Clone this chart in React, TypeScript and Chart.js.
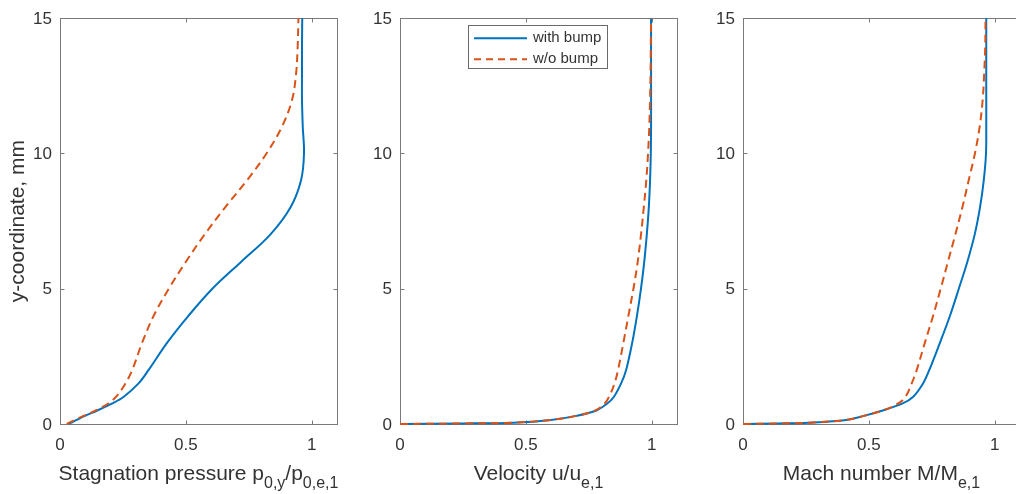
import React, { useEffect, useRef } from 'react';
import { Chart, registerables } from 'chart.js';

Chart.register(...registerables);

// ---- data (y-coordinate in mm, profile values at those heights) ----
const yCoord = [0, 0.02, 0.05, 0.15, 0.3, 0.5, 0.75, 1, 1.5, 2, 3, 4, 5, 6, 7, 8, 9, 10, 11, 12, 13, 14, 15];

const pressureWith = [0.035, 0.039, 0.045, 0.066, 0.099, 0.148, 0.205, 0.252, 0.312, 0.352, 0.425, 0.51, 0.605, 0.72, 0.835, 0.915, 0.957, 0.969, 0.964, 0.961, 0.961, 0.961, 0.962];
const pressureWithout = [0.027, 0.031, 0.037, 0.058, 0.094, 0.142, 0.19, 0.222, 0.26, 0.287, 0.326, 0.372, 0.432, 0.5, 0.574, 0.655, 0.742, 0.82, 0.882, 0.922, 0.938, 0.944, 0.947];

const velocityWith = [0, 0.25, 0.45, 0.6, 0.7, 0.78, 0.822, 0.849, 0.878, 0.898, 0.922, 0.941, 0.957, 0.97, 0.98, 0.988, 0.993, 0.996, 0.997, 0.997, 0.997, 0.997, 0.997];
const velocityWithout = [0, 0.25, 0.45, 0.6, 0.7, 0.775, 0.812, 0.83, 0.852, 0.866, 0.887, 0.907, 0.927, 0.944, 0.957, 0.968, 0.978, 0.985, 0.99, 0.993, 0.995, 0.996, 0.997];

const machWith = [0, 0.14, 0.26, 0.41, 0.48, 0.555, 0.632, 0.675, 0.715, 0.74, 0.782, 0.822, 0.857, 0.891, 0.92, 0.941, 0.956, 0.965, 0.966, 0.966, 0.966, 0.966, 0.966];
const machWithout = [0, 0.14, 0.26, 0.41, 0.48, 0.555, 0.615, 0.645, 0.67, 0.69, 0.722, 0.755, 0.785, 0.814, 0.843, 0.871, 0.896, 0.921, 0.94, 0.952, 0.958, 0.962, 0.963];

const xTicks = [0, 0.5, 1];
const yTicks = [0, 5, 10, 15];
const seriesLabels = ['with bump', 'w/o bump'];
const yTitle = 'y-coordinate, mm';

type Seg = { t: string; sub?: boolean };
const xTitles: Seg[][] = [
  [{ t: 'Stagnation pressure p' }, { t: '0,y', sub: true }, { t: '/p' }, { t: '0,e,1', sub: true }],
  [{ t: 'Velocity u/u' }, { t: 'e,1', sub: true }],
  [{ t: 'Mach number M/M' }, { t: 'e,1', sub: true }],
];

// ---- styling ----
const FONT = "'Liberation Sans', Arial, Helvetica, sans-serif";
const BLUE = '#0072BD';
const ORANGE = '#D95319';
const AXIS = '#7a7a7a';
const TEXT = '#333333';

const panels = [
  { left: 0, a: pressureWith, b: pressureWithout, legend: false, yTitle: true },
  { left: 340, a: velocityWith, b: velocityWithout, legend: true, yTitle: false },
  { left: 683, a: machWith, b: machWithout, legend: false, yTitle: false },
];

function makeFramePlugin(index: number, legend: boolean) {
  return {
    id: 'matlabFrame' + index,
    beforeDatasetsDraw(chart: any) {
      const { ctx, chartArea: a, scales } = chart;
      ctx.save();
      ctx.strokeStyle = AXIS;
      ctx.lineWidth = 1;
      const L = Math.round(a.left) + 0.5;
      const R = Math.round(a.right) + 0.5;
      const T = Math.round(a.top) + 0.5;
      const B = Math.round(a.bottom) + 0.5;
      ctx.strokeRect(L, T, R - L, B - T);
      const tl = 4;
      ctx.beginPath();
      for (const v of xTicks) {
        const px = Math.round(scales.x.getPixelForValue(v)) + 0.5;
        ctx.moveTo(px, B);
        ctx.lineTo(px, B - tl);
        ctx.moveTo(px, T);
        ctx.lineTo(px, T + tl);
      }
      for (const v of yTicks) {
        const py = Math.round(scales.y.getPixelForValue(v)) + 0.5;
        ctx.moveTo(L, py);
        ctx.lineTo(L + tl, py);
        ctx.moveTo(R, py);
        ctx.lineTo(R - tl, py);
      }
      ctx.stroke();
      ctx.restore();
    },
    afterDraw(chart: any) {
      const { ctx, chartArea: a } = chart;
      ctx.save();
      // x-axis title with subscripts
      const segs = xTitles[index];
      const mainFont = `21px ${FONT}`;
      const subFont = `16px ${FONT}`;
      let total = 0;
      const widths: number[] = [];
      for (const s of segs) {
        ctx.font = s.sub ? subFont : mainFont;
        const w = ctx.measureText(s.t).width;
        widths.push(w);
        total += w;
      }
      let x = (a.left + a.right) / 2 - total / 2;
      const baseY = 480;
      ctx.fillStyle = TEXT;
      ctx.textBaseline = 'alphabetic';
      ctx.textAlign = 'left';
      segs.forEach((s, i) => {
        ctx.font = s.sub ? subFont : mainFont;
        ctx.fillText(s.t, x, s.sub ? baseY + 8 : baseY);
        x += widths[i];
      });

      if (legend) {
        const lx = Math.round(a.left + 68) + 0.5;
        const ly = Math.round(a.top + 7) + 0.5;
        const lw = 139;
        const lh = 43;
        ctx.fillStyle = '#ffffff';
        ctx.fillRect(lx, ly, lw, lh);
        ctx.strokeStyle = '#6a6a6a';
        ctx.lineWidth = 1;
        ctx.strokeRect(lx, ly, lw, lh);
        const rows = [
          { y: a.top + 20, color: BLUE, dash: [] as number[], label: seriesLabels[0] },
          { y: a.top + 41, color: ORANGE, dash: [7, 5], label: seriesLabels[1] },
        ];
        ctx.font = `15px ${FONT}`;
        ctx.textBaseline = 'middle';
        for (const r of rows) {
          ctx.strokeStyle = r.color;
          ctx.lineWidth = 2;
          ctx.setLineDash(r.dash);
          ctx.beginPath();
          ctx.moveTo(a.left + 74, r.y);
          ctx.lineTo(a.left + 127, r.y);
          ctx.stroke();
          ctx.setLineDash([]);
          ctx.fillStyle = TEXT;
          ctx.fillText(r.label, a.left + 133, r.y);
        }
      }
      ctx.restore();
    },
  };
}

export default function App() {
  const refs = [useRef<HTMLCanvasElement>(null), useRef<HTMLCanvasElement>(null), useRef<HTMLCanvasElement>(null)];

  useEffect(() => {
    Chart.defaults.font.family = FONT;
    const charts: Chart[] = [];
    panels.forEach((p, i) => {
      const canvas = refs[i].current;
      if (!canvas) return;
      const toPts = (arr: number[]) => yCoord.map((y, k) => ({ x: arr[k], y }));
      const chart = new Chart(canvas, {
        type: 'scatter',
        data: {
          datasets: [
            {
              label: seriesLabels[0],
              data: toPts(p.a),
              borderColor: BLUE,
              backgroundColor: BLUE,
              borderWidth: 2,
              showLine: true,
              pointRadius: 0,
              tension: 0.35,
              order: 1,
              clip: 3,
            } as any,
            {
              label: seriesLabels[1],
              data: toPts(p.b),
              borderColor: ORANGE,
              backgroundColor: ORANGE,
              borderWidth: 2,
              borderDash: [8, 5],
              showLine: true,
              pointRadius: 0,
              tension: 0.35,
              order: 0,
              clip: 3,
            } as any,
          ],
        },
        options: {
          responsive: false,
          maintainAspectRatio: false,
          animation: false,
          devicePixelRatio: 1,
          events: [],
          layout: { padding: { left: 0, right: 3, top: 15, bottom: 0 } },
          plugins: {
            legend: { display: false },
            tooltip: { enabled: false },
            title: { display: false },
          },
          scales: {
            x: {
              type: 'linear',
              min: 0,
              max: 1.1,
              afterBuildTicks: (s: any) => {
                s.ticks = xTicks.map((v) => ({ value: v }));
              },
              afterFit: (s: any) => {
                s.height = 70;
              },
              grid: { display: false, drawTicks: false },
              border: { display: false },
              ticks: {
                color: TEXT,
                font: { size: 17, family: FONT },
                padding: 11,
                maxRotation: 0,
                callback: (v: any) => String(v),
              },
            },
            y: {
              type: 'linear',
              min: 0,
              max: 15,
              afterBuildTicks: (s: any) => {
                s.ticks = yTicks.map((v) => ({ value: v }));
              },
              afterFit: (s: any) => {
                s.width = 60;
              },
              grid: { display: false, drawTicks: false },
              border: { display: false },
              ticks: {
                color: TEXT,
                font: { size: 17, family: FONT },
                padding: 8,
                labelOffset: 1,
                callback: (v: any) => String(v),
              },
              title: {
                display: p.yTitle,
                text: yTitle,
                color: TEXT,
                font: { size: 21, family: FONT },
                padding: { top: 6, bottom: 0 },
              },
            },
          },
        } as any,
        plugins: [makeFramePlugin(i, p.legend)],
      });
      charts.push(chart);
    });
    return () => {
      charts.forEach((c) => c.destroy());
    };
  }, []);

  return (
    <div
      style={{
        position: 'absolute',
        left: 0,
        top: 0,
        width: 1016,
        height: 494,
        overflow: 'hidden',
        background: '#ffffff',
      }}
    >
      {panels.map((p, i) => (
        <canvas
          key={i}
          ref={refs[i]}
          width={340}
          height={494}
          style={{ position: 'absolute', left: p.left, top: 0, width: 340, height: 494 }}
        />
      ))}
    </div>
  );
}
